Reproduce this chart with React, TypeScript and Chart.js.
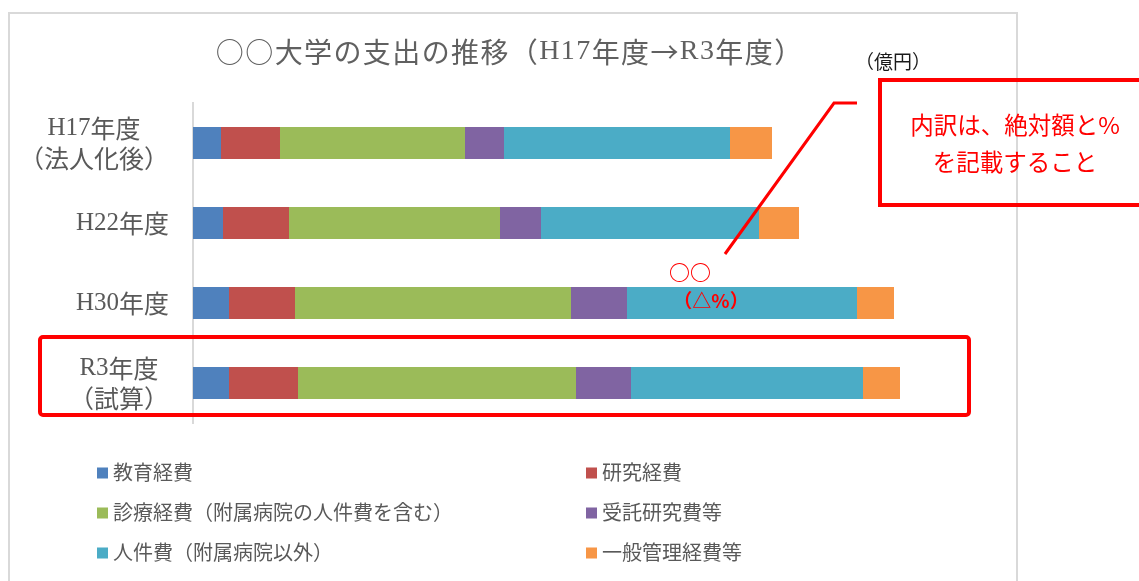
import React, { useEffect, useRef } from "react";
import { Chart, registerables } from "chart.js";

Chart.register(...registerables);

// ---- data (億円) ----
const categories: string[][] = [
  ["H17年度", "（法人化後）"],
  ["H22年度"],
  ["H30年度"],
  ["R3年度", "（試算）"],
];
const seriesNames = [
  "教育経費",
  "研究経費",
  "診療経費（附属病院の人件費を含む）",
  "受託研究費等",
  "人件費（附属病院以外）",
  "一般管理経費等",
];
const kyoikuKeihi = [28, 30, 36, 36];
const kenkyuKeihi = [59, 66, 66, 69];
const shinryoKeihi = [185, 211, 276, 278];
const jutakuKenkyuhi = [39, 41, 56, 55];
const jinkenhi = [226, 218, 230, 232];
const ippanKanriKeihi = [42, 40, 37, 37];
const axisMax = 800;

const chartTitle = "○○大学の支出の推移（H17年度→R3年度）";
const unitLabel = "（億円）";
const calloutLines = ["内訳は、絶対額と%", "を記載すること"];
const placeholderValue = "○○";
const placeholderPct = "（△%）";

const seriesValues = [kyoikuKeihi, kenkyuKeihi, shinryoKeihi, jutakuKenkyuhi, jinkenhi, ippanKanriKeihi];
const seriesColors = ["#4f81bd", "#c0504d", "#9bbb59", "#8064a2", "#4bacc6", "#f79646"];

const SERIF = '"Liberation Serif", serif';
const CJK = '"Noto Sans CJK JP", sans-serif';
const SANS = '"Noto Sans CJK JP", "Noto Sans", sans-serif';
const GRAY = "#595959";
const RED = "#ff0000";

// draw text with ASCII runs in serif and everything else in the CJK font
function drawMixed(
  ctx: CanvasRenderingContext2D,
  text: string,
  cx: number,
  y: number,
  size: number,
  spacing: number
) {
  const runs: { s: string; latin: boolean }[] = [];
  for (const ch of Array.from(text)) {
    const latin = /[\x21-\x7E]/.test(ch);
    const last = runs[runs.length - 1];
    if (last && last.latin === latin) last.s += ch;
    else runs.push({ s: ch, latin });
  }
  (ctx as any).letterSpacing = `${spacing}px`;
  const widths = runs.map((r) => {
    ctx.font = r.latin ? `${size}px ${SERIF}` : `${size}px ${CJK}`;
    return ctx.measureText(r.s).width;
  });
  const total = widths.reduce((a, b) => a + b, 0) - spacing;
  let x = cx - total / 2;
  ctx.textAlign = "left";
  runs.forEach((r, i) => {
    ctx.font = r.latin ? `${size}px ${SERIF}` : `${size}px ${CJK}`;
    ctx.fillText(r.s, x, y);
    x += widths[i];
  });
  (ctx as any).letterSpacing = "0px";
  return total;
}

function measureMixed(ctx: CanvasRenderingContext2D, text: string, size: number) {
  let w = 0;
  for (const ch of Array.from(text)) {
    const latin = /[\x21-\x7E]/.test(ch);
    ctx.font = latin ? `${size}px ${SERIF}` : `${size}px ${CJK}`;
    w += ctx.measureText(ch).width;
  }
  return w;
}

const decorPlugin = {
  id: "decor",
  beforeDraw(chart: any) {
    const ctx: CanvasRenderingContext2D = chart.ctx;
    ctx.save();
    ctx.fillStyle = "#ffffff";
    ctx.fillRect(0, 0, chart.width, chart.height);
    // chart frame
    ctx.strokeStyle = "#d9d9d9";
    ctx.lineWidth = 2;
    ctx.strokeRect(9, 13, 1008, 700);
    // title
    ctx.fillStyle = "#606060";
    ctx.textBaseline = "middle";
    drawMixed(ctx, chartTitle, 509, 52, 28, 1.4);
    ctx.restore();
  },
  afterDraw(chart: any) {
    const ctx: CanvasRenderingContext2D = chart.ctx;
    const ys = chart.scales.y;
    const xs = chart.scales.x;
    const area = chart.chartArea;
    ctx.save();

    // category labels
    ctx.fillStyle = GRAY;
    ctx.textBaseline = "middle";
    (chart.data.labels as string[][]).forEach((lines, i) => {
      const yc = ys.getPixelForValue(i);
      const w = Math.max(...lines.map((l) => measureMixed(ctx, l, 25)));
      const cx = area.left - 24 - w / 2;
      lines.forEach((line, j) => {
        drawMixed(ctx, line, cx, yc + (j - (lines.length - 1) / 2) * 30, 25, 0);
      });
    });

    // legend (2 columns)
    ctx.font = `20px ${SANS}`;
    ctx.textAlign = "left";
    chart.data.datasets.forEach((ds: any, i: number) => {
      const col = i % 2;
      const row = Math.floor(i / 2);
      const x = col ? 586 : 97;
      const y = 473 + row * 40;
      ctx.fillStyle = ds.backgroundColor;
      ctx.fillRect(x, y - 5.5, 11, 11);
      ctx.fillStyle = GRAY;
      ctx.fillText(ds.label, x + 16, y - 1);
    });

    // red frame around the last category
    const yLast = ys.getPixelForValue(categories.length - 1);
    ctx.strokeStyle = RED;
    ctx.lineWidth = 4;
    ctx.beginPath();
    (ctx as any).roundRect(40, yLast - 46, 929, 78, 3);
    ctx.stroke();

    // callout box
    ctx.lineWidth = 4;
    ctx.beginPath();
    ctx.rect(880, 80, 300, 125);
    ctx.stroke();
    ctx.fillStyle = RED;
    ctx.font = `23.5px ${SANS}`;
    ctx.textAlign = "center";
    ctx.fillText(calloutLines[0], 1015, 125);
    ctx.fillText(calloutLines[1], 1015, 162);

    // leader line
    ctx.lineWidth = 3;
    ctx.beginPath();
    ctx.moveTo(857, 103);
    ctx.lineTo(834, 103);
    ctx.lineTo(725, 254);
    ctx.stroke();

    // unit label
    ctx.fillStyle = "#1a1a1a";
    ctx.font = `19px ${SANS}`;
    ctx.fillText(unitLabel, 893, 62);

    // placeholder data label on the H30 personnel segment
    const iH30 = 2;
    const tealStart =
      kyoikuKeihi[iH30] + kenkyuKeihi[iH30] + shinryoKeihi[iH30] + jutakuKenkyuhi[iH30];
    const xT = xs.getPixelForValue(tealStart);
    const yH30 = ys.getPixelForValue(iH30);
    ctx.fillStyle = RED;
    ctx.font = `bold 21px ${SANS}`;
    ctx.fillText(placeholderValue, xT + 63, yH30 - 31);
    ctx.font = `bold 19px ${SANS}`;
    ctx.fillText(placeholderPct, xT + 84, yH30 - 2);

    ctx.restore();
  },
};

export default function App() {
  const ref = useRef<HTMLCanvasElement>(null);
  useEffect(() => {
    const canvas = ref.current;
    if (!canvas) return;
    const chart = new Chart(canvas, {
      type: "bar",
      data: {
        labels: categories as any,
        datasets: seriesNames.map((name, i) => ({
          label: name,
          data: seriesValues[i],
          backgroundColor: seriesColors[i],
          borderWidth: 0,
          barPercentage: 0.4,
          categoryPercentage: 1,
        })),
      },
      options: {
        indexAxis: "y",
        responsive: false,
        animation: false,
        events: [],
        layout: { padding: { left: 193, right: 146, top: 103, bottom: 158 } },
        plugins: {
          legend: { display: false },
          title: { display: false },
          tooltip: { enabled: false },
        },
        scales: {
          x: { display: false, stacked: true, min: 0, max: axisMax },
          y: {
            stacked: true,
            display: true,
            grid: { display: false, drawTicks: false },
            border: { display: true, color: "#d9d9d9", width: 2 },
            ticks: { display: false },
          },
        },
      } as any,
      plugins: [decorPlugin],
    });
    return () => chart.destroy();
  }, []);
  return (
    <div style={{ position: "fixed", left: 0, top: 0, width: 1139, height: 581, background: "#fff" }}>
      <canvas ref={ref} width={1139} height={581} style={{ display: "block", width: 1139, height: 581 }} />
    </div>
  );
}
